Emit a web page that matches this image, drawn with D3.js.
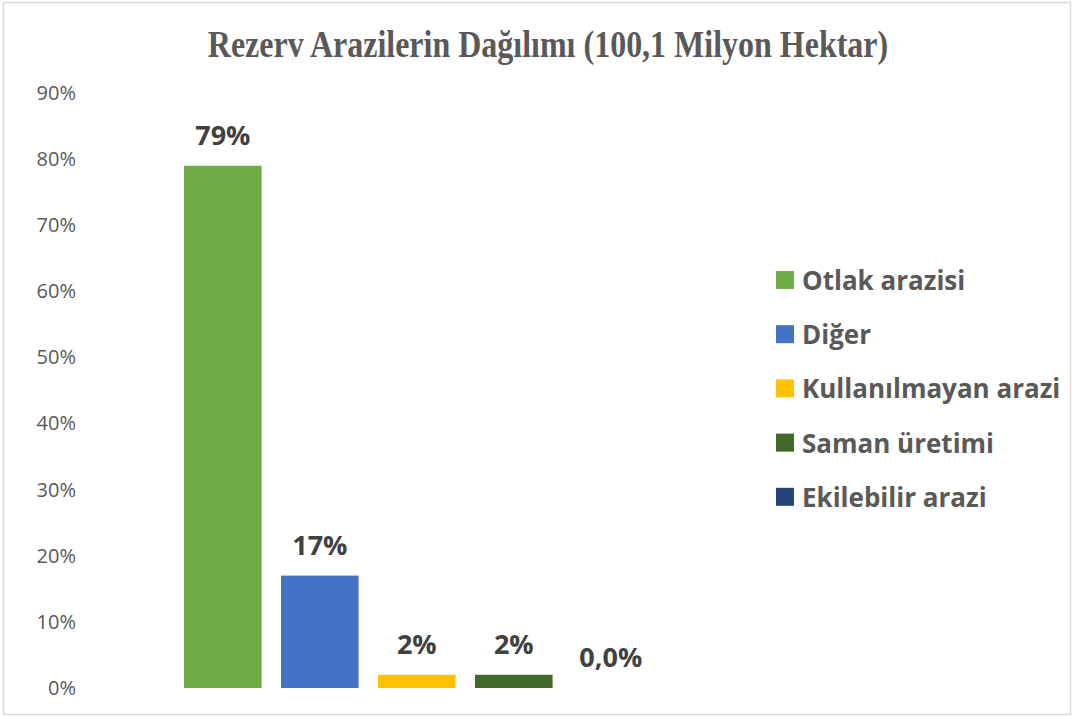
<!DOCTYPE html>
<html>
<head>
<meta charset="utf-8">
<script src="https://cdn.jsdelivr.net/npm/d3@7"></script>
<style>
  body { margin: 0; background: #fff; }
  svg { display: block; }
</style>
</head>
<body>
<svg id="chart"></svg>
<script>
let categories = ['Otlak arazisi', 'Diğer', 'Kullanılmayan arazi', 'Saman üretimi', 'Ekilebilir arazi']
let values = [0.79, 0.17, 0.02, 0.02, 0]
let valueLabels = ['79%', '17%', '2%', '2%', '0,0%']
let colors = ['#70AD47', '#4472C4', '#FFC000', '#43682B', '#264478']
let yTicks = [0, 0.1, 0.2, 0.3, 0.4, 0.5, 0.6, 0.7, 0.8, 0.9]

function graficar() {
  let w = 1073
  let h = 717
  let svg = d3.select('#chart')
              .attr('width', w)
              .attr('height', h)

  // chart border
  svg.append('rect')
    .attr('x', 3.5).attr('y', 2.5)
    .attr('width', 1067).attr('height', 712)
    .attr('fill', '#fff')
    .attr('stroke', '#d9d9d9')
    .attr('stroke-width', 1.5)

  // title, slightly stretched vertically like the original
  svg.append('text')
    .text('Rezerv Arazilerin Dağılımı (100,1 Milyon Hektar)')
    .attr('text-anchor', 'middle')
    .attr('transform', 'translate(548,57) scale(1,1.2)')
    .style('font-family', '"Liberation Serif", "Times New Roman", serif')
    .style('font-weight', 'bold')
    .style('font-size', '32px')
    .style('fill', '#595959')

  let y = d3.scaleLinear().domain([0, 0.9]).range([688, 93])
  let x = d3.scaleBand().domain(categories).range([184, 649.6]).paddingInner(0.2).paddingOuter(0)

  let yAxis = d3.axisLeft(y).tickValues(yTicks).tickFormat(d3.format('.0%')).tickSize(0).tickPadding(0)
  let ga = svg.append('g').attr('transform', 'translate(76,0)').call(yAxis)
  ga.select('.domain').remove()
  ga.selectAll('text')
    .style('font-family', '"Open Sans", "Noto Sans", sans-serif')
    .style('font-size', '20px')
    .style('fill', '#595959')

  let bars = svg.selectAll('.bar')
    .data(categories)
    .enter()

  bars.append('rect')
    .attr('x', d => x(d))
    .attr('width', x.bandwidth())
    .attr('y', (d, i) => y(values[i]))
    .attr('height', (d, i) => y(0) - y(values[i]))
    .style('fill', (d, i) => colors[i])

  bars.append('text')
    .text((d, i) => valueLabels[i])
    .attr('x', d => x(d) + x.bandwidth() / 2)
    .attr('y', (d, i) => values[i] == 0 ? 667 : y(values[i]) - 21)
    .attr('text-anchor', 'middle')
    .style('font-family', '"Open Sans", "Noto Sans", sans-serif')
    .style('font-weight', 'bold')
    .style('font-size', '27px')
    .style('fill', '#404040')

  let legend = svg.selectAll('.leg')
    .data(categories)
    .enter()
    .append('g')
    .attr('transform', (d, i) => 'translate(776,' + (280 + i * 54.2) + ')')

  legend.append('rect')
    .attr('x', 0).attr('y', -9)
    .attr('width', 18).attr('height', 18)
    .style('fill', (d, i) => colors[i])

  legend.append('text')
    .text(d => d)
    .attr('x', 26)
    .attr('y', 10)
    .style('font-family', '"Open Sans", "Noto Sans", sans-serif')
    .style('font-weight', 'bold')
    .style('font-size', '26px')
    .style('fill', '#595959')
}

graficar()
</script>
</body>
</html>
